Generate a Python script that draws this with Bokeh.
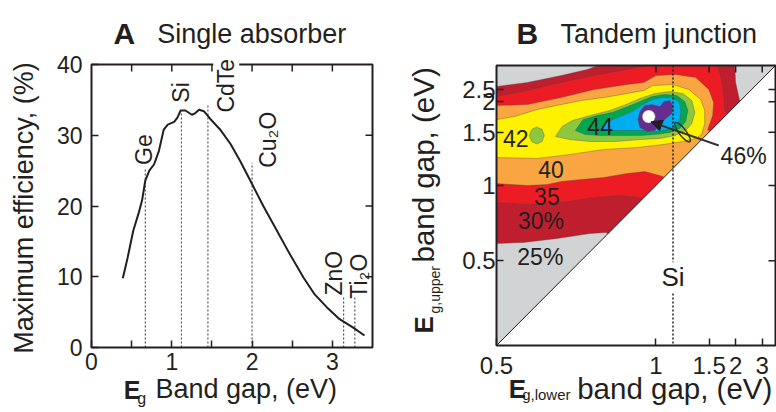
import math
from bokeh.plotting import figure
from bokeh.layouts import row
from bokeh.models import (Range1d, FixedTicker, Label, Arrow, NormalHead, LinearAxis,
                          CustomJSTickFormatter, ColumnDataSource)
from bokeh.embed import file_html
from bokeh.resources import INLINE

FONT = "Liberation Sans"
INK = "#231f20"

# ---------------- Panel A data: single absorber ----------------
eg_single = [0.39, 0.45, 0.52, 0.59, 0.63, 0.67, 0.72, 0.78, 0.84, 0.90, 0.95, 1.03,
             1.07, 1.11, 1.17, 1.25, 1.29, 1.34, 1.40, 1.48, 1.61, 1.73, 1.85, 2.00,
             2.14, 2.31, 2.47, 2.64, 2.78, 2.93, 3.09, 3.26, 3.40]
eff_single = [9.8, 12.7, 16.5, 19.1, 20.8, 23.6, 25.0, 25.9, 27.8, 30.8, 31.5, 31.9,
              32.5, 33.5, 33.5, 32.9, 33.1, 33.6, 33.4, 32.3, 30.7, 28.8, 26.4, 23.1,
              20.0, 16.5, 13.2, 9.9, 7.5, 5.7, 4.0, 2.8, 1.7]
materials = ["Ge", "Si", "CdTe", "Cu₂O", "ZnO", "Ti₂O"]
material_gap = [0.67, 1.12, 1.45, 2.00, 3.14, 3.28]
material_line_top = [25.4, 33.2, 34.4, 26.1, 7.1, 7.1]
a_xticks = [0, 1, 2, 3]
a_xminor = [0.5, 1.5, 2.5]
a_yticks = [0, 10, 20, 30, 40]

# ---------------- Panel B data: tandem junction ----------------
b_xtick_gap = [0.5, 1, 1.5, 2, 3]
b_xtick_labels = ["0.5", "1", "1.5", "2", "3"]
b_ytick_gap = [0.68, 1.0, 1.5, 2.1, 2.5]
b_ytick_labels = ["0.5", "1", "1.5", "2", "2.5"]
si_gap = 1.12
diag_gap = [0.5, 4.0]

# efficiency bands: boundaries in inverse band gap (1/eV) -> (1/Eg_lower, 1/Eg_upper)
band25_inv_lower = [2.0, 2.0, 1.806, 1.594, 1.431, 1.363, 1.35, 0.513, 0.506, 0.5, 0.475, 0.25,
                    0.725, 1.313, 1.413, 1.619, 1.831, 2.0]
band25_inv_upper = [0.388, 0.381, 0.356, 0.313, 0.275, 0.25, 0.25, 0.25, 0.25, 0.356, 0.469,
                    0.781, 1.72, 1.294, 1.3, 1.331, 1.356, 1.363]
band30_inv_lower = [2.0, 1.806, 1.594, 1.388, 1.181, 1.05, 1.03, 0.613, 0.613, 0.588, 0.575,
                    0.569, 0.35, 0.725, 0.975, 1.1, 1.225, 1.388, 1.594, 1.806, 2.0]
band30_inv_upper = [0.444, 0.406, 0.356, 0.313, 0.275, 0.25, 0.25, 0.25, 0.25, 0.344, 0.438,
                    0.531, 0.781, 1.469, 1.188, 1.075, 1.063, 1.075, 1.106, 1.119, 1.106]
band35_inv_lower = [2.0, 1.806, 1.594, 1.388, 1.181, 1.075, 1.0, 0.875, 0.75, 0.669, 0.638,
                    0.644, 0.675, 0.538, 0.788, 0.956, 1.069, 1.181, 1.325, 1.469, 1.594,
                    1.681, 1.806, 2.0]
band35_inv_upper = [0.5, 0.494, 0.45, 0.4, 0.369, 0.356, 0.313, 0.306, 0.325, 0.4, 0.481,
                    0.563, 0.65, 0.844, 1.094, 0.944, 0.913, 0.925, 0.95, 0.963, 0.975,
                    0.994, 1.0, 0.988]
band40_inv_lower = [2.0, 1.888, 1.744, 1.594, 1.469, 1.325, 1.181, 1.075, 1.019, 0.894, 0.794,
                    0.719, 0.694, 0.694, 0.713, 0.75, 0.831, 0.956, 1.119, 1.331, 1.538,
                    1.744, 2.0]
band40_inv_upper = [0.588, 0.569, 0.525, 0.494, 0.469, 0.45, 0.425, 0.406, 0.375, 0.369, 0.4,
                    0.463, 0.531, 0.613, 0.681, 0.706, 0.725, 0.744, 0.763, 0.775, 0.806,
                    0.831, 0.825]
band42_inv_lower = [1.631, 1.588, 1.525, 1.413, 1.288, 1.188, 1.1, 1.006, 0.913, 0.831, 0.775,
                    0.756, 0.775, 0.813, 0.881, 0.975, 1.1, 1.256, 1.413, 1.538]
band42_inv_upper = [0.694, 0.631, 0.594, 0.563, 0.531, 0.494, 0.456, 0.425, 0.413, 0.425, 0.469,
                    0.544, 0.613, 0.656, 0.688, 0.706, 0.713, 0.725, 0.725, 0.713]
band42b_inv_lower = [1.70, 1.714, 1.747, 1.78, 1.794, 1.78, 1.747, 1.714]
band42b_inv_upper = [0.688, 0.65, 0.634, 0.65, 0.688, 0.725, 0.741, 0.725]
band43_inv_lower = [1.506, 1.456, 1.369, 1.275, 1.175, 1.1, 1.025, 0.944, 0.869, 0.819, 0.8,
                    0.813, 0.85, 0.913, 1.006, 1.1, 1.225, 1.35, 1.444]
band43_inv_upper = [0.656, 0.588, 0.563, 0.544, 0.506, 0.475, 0.444, 0.431, 0.438, 0.475, 0.531,
                    0.6, 0.644, 0.669, 0.681, 0.688, 0.688, 0.688, 0.681]
band44_inv_lower = [1.363, 1.3, 1.225, 1.15, 1.081, 1.025, 0.963, 0.9, 0.856, 0.844, 0.85,
                    0.881, 0.925, 0.994, 1.069, 1.163, 1.275]
band44_inv_upper = [0.644, 0.6, 0.569, 0.538, 0.494, 0.463, 0.45, 0.45, 0.475, 0.531, 0.594,
                    0.638, 0.65, 0.663, 0.656, 0.656, 0.656]
band45_inv_lower = [1.113, 1.1, 1.069, 1.025, 0.975, 0.95, 0.913, 0.894, 0.9, 0.938, 0.975,
                    1.006, 1.056, 1.1]
band45_inv_upper = [0.588, 0.538, 0.5, 0.494, 0.506, 0.475, 0.469, 0.5, 0.55, 0.581, 0.619,
                    0.656, 0.663, 0.638]
peak_inv_lower = [1.045]
peak_inv_upper = [0.569]

band_colors = ["#be1e2d", "#ed1c24", "#f9a541", "#fff200", "#8dc63f", "#8dc63f",
               "#00a651", "#00aeef", "#662d91"]

# ---------------- layout helpers ----------------
H = 410
TICK_PX = 7


def make_range(v_lo, v_hi, p_lo, p_hi, total):
    """Range whose values v_lo/v_hi land at pixels p_lo/p_hi (from start side) of a canvas."""
    k = (p_hi - p_lo) / (v_hi - v_lo)
    return Range1d(v_lo - p_lo / k, v_hi + (total - p_hi) / k), k


def lab(p, x, y, text, size, bold=False, angle=0.0, align="left", bg=None):
    l = Label(x=x, y=y, text=text, text_font=FONT, text_font_size=f"{size}px",
              text_color=INK, text_font_style="bold" if bold else "normal",
              angle=angle, text_align=align, text_baseline="middle")
    if bg is not None:
        l.background_fill_color = bg
    p.add_layout(l)


def make_axis(loc, ticker, size, standoff, formatter=None):
    ax = LinearAxis(fixed_location=loc, ticker=ticker)
    if formatter is not None:
        ax.formatter = formatter
    ax.axis_line_color = None
    ax.major_tick_in = TICK_PX
    ax.major_tick_out = 0
    ax.minor_tick_in = TICK_PX
    ax.minor_tick_out = 0
    ax.major_tick_line_color = INK
    ax.major_tick_line_width = 1.5
    ax.minor_tick_line_color = INK
    ax.minor_tick_line_width = 1.5
    ax.major_label_text_font = FONT
    ax.major_label_text_font_size = f"{size}px"
    ax.major_label_text_color = INK
    ax.major_label_standoff = standoff
    return ax


def blank_figure(width, xr, yr):
    p = figure(width=width, height=H, x_range=xr, y_range=yr, output_backend="svg",
               toolbar_location=None, x_axis_location=None, y_axis_location=None,
               min_border_left=0, min_border_right=0, min_border_top=0, min_border_bottom=0)
    p.grid.visible = False
    p.outline_line_color = None
    p.background_fill_color = "white"
    p.border_fill_color = "white"
    return p


# ======================= Panel A =======================
A_W = 408
A_LEFT, A_RIGHT, A_TOP, A_BOTTOM = 91, 372, 64, 347
a_x0, a_x1, a_y0, a_y1 = 0.0, 3.5, 0.0, 40.0
xrA, kxA = make_range(a_x0, a_x1, A_LEFT, A_RIGHT, A_W)
yrA, kyA = make_range(a_y0, a_y1, H - A_BOTTOM, H - A_TOP, H)
pA = blank_figure(A_W, xrA, yrA)

pA.add_layout(make_axis(a_y0, FixedTicker(ticks=a_xticks, minor_ticks=a_xminor), 23, 5), "below")
pA.add_layout(make_axis(a_x0, FixedTicker(ticks=a_yticks), 23, 9), "left")

top_ticks_a = [t for t in sorted(a_xticks + a_xminor) if t > a_x0]
pA.segment(x0=top_ticks_a, y0=[a_y1] * len(top_ticks_a), x1=top_ticks_a,
           y1=[a_y1 - TICK_PX / kyA] * len(top_ticks_a), line_color=INK, line_width=1.5)
right_ticks_a = [t for t in a_yticks if a_y0 < t < a_y1]
pA.segment(x0=[a_x1] * len(right_ticks_a), y0=right_ticks_a,
           x1=[a_x1 - TICK_PX / kxA] * len(right_ticks_a), y1=right_ticks_a,
           line_color=INK, line_width=1.5)

pA.segment(x0=material_gap, y0=[0] * len(material_gap), x1=material_gap, y1=material_line_top,
           line_color="#555555", line_width=1.2, line_dash="2 2")
pA.line(eg_single, eff_single, line_color=INK, line_width=2)
pA.quad(left=[a_x0], right=[a_x1], bottom=[a_y0], top=[a_y1], fill_color=None,
        line_color=INK, line_width=2)

mat_anchor = [(0.658, 25.8), (1.118, 34.6), (1.678, 33.2), (2.198, 25.4), (3.018, 7.35),
              (3.333, 6.9)]
for name, (mx, my) in zip(materials, mat_anchor):
    lab(pA, mx, my, name, 23, angle=math.pi / 2, align="left",
        bg="white" if name == "CdTe" else None)

lab(pA, 0.274, 44.41, "A", 30, bold=True)
lab(pA, 0.818, 44.26, "Single absorber", 27)
lab(pA, 0.402, -5.97, "E", 25, bold=True)
lab(pA, 0.569, -7.26, "g", 16)
lab(pA, 0.797, -5.87, "Band gap, (eV)", 27)
lab(pA, -0.846, 19.71, "Maximum efficiency, (%)", 27, angle=math.pi / 2, align="center")

# ======================= Panel B =======================
B_W = 368
B_LEFT, B_RIGHT, B_TOP, B_BOTTOM = 88, 367, 65, 345
b_lo, b_hi = 2.0, 0.25          # inverse gap at left/bottom and right/top of the box
xrB, kxB = make_range(b_lo, b_hi, B_LEFT, B_RIGHT, B_W)
yrB, kyB = make_range(b_lo, b_hi, H - B_BOTTOM, H - B_TOP, H)
pB = blank_figure(B_W, xrB, yrB)

bx_pos = [1.0 / e for e in b_xtick_gap]
by_pos = [1.0 / e for e in b_ytick_gap]
JS = """
let best = 0, d = Infinity;
for (let i = 0; i < pos.length; i++) { const dd = Math.abs(pos[i] - tick); if (dd < d) { d = dd; best = i; } }
return labs[best];
"""
pB.add_layout(make_axis(b_lo, FixedTicker(ticks=bx_pos), 24, 11,
                        CustomJSTickFormatter(args=dict(pos=bx_pos, labs=b_xtick_labels), code=JS)),
              "below")
pB.add_layout(make_axis(b_lo, FixedTicker(ticks=by_pos), 24, 1,
                        CustomJSTickFormatter(args=dict(pos=by_pos, labs=b_ytick_labels), code=JS)),
              "left")

pB.quad(left=[b_lo], right=[b_hi], bottom=[b_lo], top=[b_hi], fill_color="#d1d3d4",
        line_color=None)
bands = ColumnDataSource(dict(
    xs=[band25_inv_lower, band30_inv_lower, band35_inv_lower, band40_inv_lower,
        band42_inv_lower, band42b_inv_lower, band43_inv_lower, band44_inv_lower, band45_inv_lower],
    ys=[band25_inv_upper, band30_inv_upper, band35_inv_upper, band40_inv_upper,
        band42_inv_upper, band42b_inv_upper, band43_inv_upper, band44_inv_upper, band45_inv_upper],
    color=band_colors))
pB.patches("xs", "ys", fill_color="color", line_color="#5a4a48", line_alpha=0.55,
           line_width=0.7, source=bands)
pB.scatter(peak_inv_lower, peak_inv_upper, size=13, fill_color="white", line_color="#777777",
           line_width=0.5)

# region below the diagonal (upper gap < lower gap) is blank
inv_d = [1.0 / e for e in diag_gap]
pB.patch([inv_d[0], inv_d[1], inv_d[1]], [inv_d[0], inv_d[1], inv_d[0]],
         fill_color="white", line_color=None)
pB.line(inv_d, inv_d, line_color=INK, line_width=1)

top_ticks_b = [t for t in bx_pos if t < b_lo - 1e-9]
pB.segment(x0=top_ticks_b, y0=[b_hi] * len(top_ticks_b), x1=top_ticks_b,
           y1=[b_hi - TICK_PX / kyB] * len(top_ticks_b), line_color=INK, line_width=1.5)
pB.segment(x0=[b_hi] * len(by_pos), y0=by_pos, x1=[b_hi - TICK_PX / kxB] * len(by_pos),
           y1=by_pos, line_color=INK, line_width=1.5)

si_inv = 1.0 / si_gap
pB.segment(x0=[si_inv], y0=[b_hi], x1=[si_inv], y1=[b_lo], line_color=INK,
           line_width=1.5, line_dash="2 2")
pB.quad(left=[b_lo], right=[b_hi], bottom=[b_lo], top=[b_hi], fill_color=None,
        line_color=INK, line_width=2)
lab(pB, si_inv, 1.573, "Si", 26, align="center", bg="white")

pB.ellipse(x=[0.833], y=[0.667], width=24, height=7, width_units="screen",
           height_units="screen", angle=-0.92, fill_color=None, line_color="#333333",
           line_width=1.5)
pB.add_layout(Arrow(end=NormalHead(size=11, fill_color=INK, line_color=INK),
                    x_start=0.606, y_start=0.75, x_end=1.031, y_end=0.602,
                    line_color="#333333", line_width=2))

for txt, cx, cy in [("44", 1.35, 0.631), ("42", 1.879, 0.705), ("40", 1.658, 0.898),
                    ("35", 1.684, 1.069), ("30%", 1.721, 1.221), ("25%", 1.725, 1.448),
                    ("46%", 0.45, 0.8125)]:
    lab(pB, cx, cy, txt, 23, align="center")

lab(pB, 1.8746, 0.0488, "B", 30, bold=True)
lab(pB, 1.5986, 0.0553, "Tandem junction", 27)
lab(pB, 1.923, 2.274, "E", 26, bold=True)
lab(pB, 1.839, 2.305, "g,lower", 15)
lab(pB, 1.494, 2.267, "band gap, (eV)", 29.5)
lab(pB, 2.452, 1.925, "E", 26, bold=True, angle=math.pi / 2)
lab(pB, 2.388, 1.80, "g,upper", 14, angle=math.pi / 2)
lab(pB, 2.46, 1.481, "band gap, (eV)", 29.5, angle=math.pi / 2)

layout = row(pA, pB)
open("out.html", "w").write(file_html(layout, INLINE))
